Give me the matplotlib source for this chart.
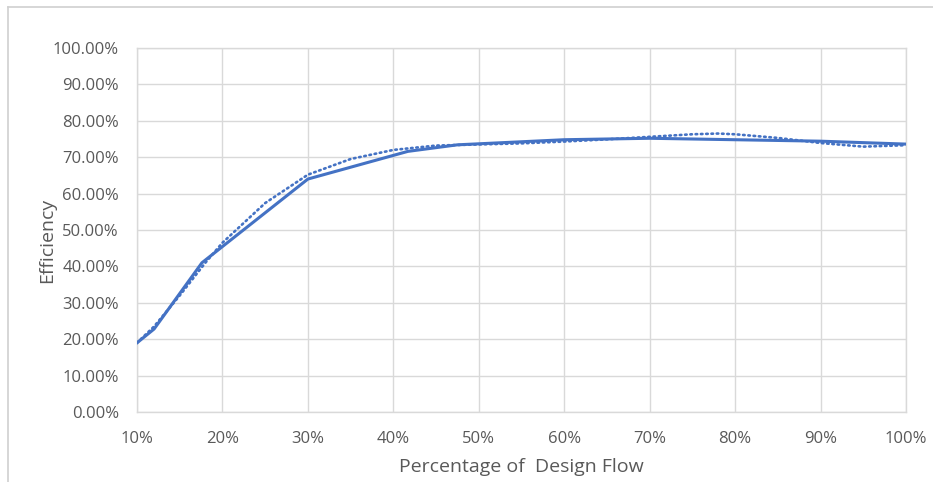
import matplotlib
matplotlib.use("Agg")
import matplotlib.pyplot as plt
from matplotlib.ticker import PercentFormatter
from matplotlib.lines import Line2D

# Measured efficiency curve (% of design flow -> efficiency %)
flow_pct = [10, 12, 17.6, 30, 41.7, 47.5, 60, 70, 80, 90, 100]
efficiency = [19.0, 22.8, 41.0, 64.0, 71.6, 73.4, 74.8, 75.2, 74.8, 74.4, 73.6]

# Trendline (dotted)
trend_x = [10, 12, 15, 18, 20, 25, 30, 35, 40, 45, 50, 55, 60, 65, 70, 75, 78, 80, 85, 90, 95, 100]
trend_y = [19.0, 23.5, 32.0, 41.0, 46.5, 57.4, 65.2, 69.5, 72.0, 73.2, 73.5, 73.8, 74.3, 74.9,
           75.6, 76.3, 76.5, 76.3, 75.3, 73.9, 72.9, 73.3]

x_ticks = list(range(10, 101, 10))
y_ticks = list(range(0, 101, 10))

blue = "#4472C4"
grid_c = "#d9d9d9"
text_c = "#595959"

plt.rcParams["font.family"] = ["Open Sans", "DejaVu Sans"]

fig = plt.figure(figsize=(9.33, 4.82), dpi=100)
ax = fig.add_axes([137 / 933, 1 - 412 / 482, (906 - 137) / 933, (412 - 48) / 482])

ax.plot(flow_pct, efficiency, color=blue, lw=2.2, solid_joinstyle="round", zorder=3)
ax.plot(trend_x, trend_y, color=blue, lw=1.9, linestyle=(0, (0.6, 1.4)),
        dash_capstyle="round", zorder=3)

ax.set_xlim(10, 100)
ax.set_ylim(0, 100)
ax.set_xticks(x_ticks)
ax.set_yticks(y_ticks)
ax.xaxis.set_major_formatter(PercentFormatter(decimals=0))
ax.yaxis.set_major_formatter(PercentFormatter(decimals=2))
ax.grid(True, color=grid_c, lw=1)
ax.set_axisbelow(True)
for s in ax.spines.values():
    s.set_color(grid_c)
    s.set_linewidth(1)
ax.tick_params(length=0, colors=text_c, labelsize=12)
ax.tick_params(axis="x", pad=14)
ax.tick_params(axis="y", pad=13)

fig.text(521 / 933, 1 - 467 / 482, "Percentage of  Design Flow", color=text_c, fontsize=14,
         ha="center", va="center")
fig.text(47 / 933, 1 - 240 / 482, "Efficiency", color=text_c, fontsize=14,
         ha="center", va="center", rotation=90)

# outer frame of the chart area (top and left edges visible)
fig.add_artist(Line2D([8 / 933, 1], [1 - 7 / 482, 1 - 7 / 482], color="#d0d0d0", lw=1.2))
fig.add_artist(Line2D([8 / 933, 8 / 933], [0, 1 - 7 / 482], color="#d0d0d0", lw=1.2))

fig.savefig("out.png", dpi=100)
